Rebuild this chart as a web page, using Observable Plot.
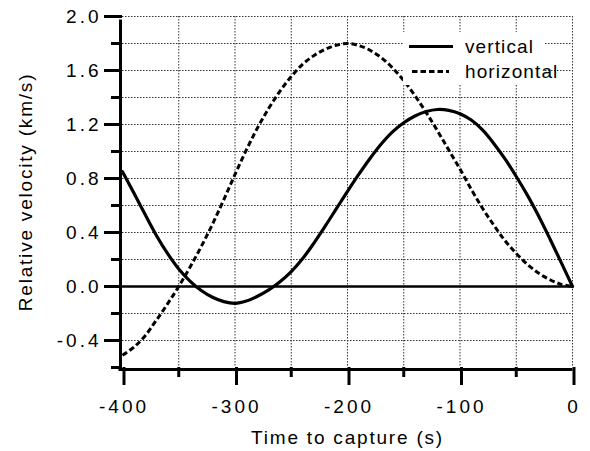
<!DOCTYPE html>
<html>
<head>
<meta charset="utf-8">
<script src="https://cdn.jsdelivr.net/npm/d3@7"></script>
<script src="https://cdn.jsdelivr.net/npm/@observablehq/plot@0.6"></script>
<style>
  body { margin: 0; background: #fff; }
  g[aria-label="y-axis tick label"] text, g[aria-label="x-axis tick label"] text { letter-spacing: 3px; }
  .title-text text { letter-spacing: 1.8px; }
</style>
</head>
<body>
<div id="chart"></div>
<script>
// Time to capture (s)
const time = [-400,-390,-380,-370,-360,-350,-340,-330,-320,-310,-300,-290,-280,-270,-260,-250,-240,-230,-220,-210,-200,
              -190,-180,-170,-160,-150,-140,-130,-120,-110,-100,-90,-80,-70,-60,-50,-40,-30,-20,-10,0];
// Relative velocity (km/s), vertical component (solid)
const vertical = [0.85,0.695,0.535,0.38,0.245,0.13,0.04,-0.03,-0.08,-0.112,-0.125,-0.108,-0.072,-0.025,0.035,0.11,0.205,0.32,0.445,0.575,0.705,
                  0.83,0.948,1.055,1.145,1.213,1.263,1.296,1.311,1.305,1.28,1.233,1.16,1.06,0.945,0.815,0.675,0.52,0.352,0.177,0];
// Relative velocity (km/s), horizontal component (dashed)
const horizontal = [-0.51,-0.45,-0.366,-0.251,-0.129,0.0,0.143,0.296,0.462,0.642,0.83,1.01,1.175,1.32,1.447,1.555,1.646,1.71,1.757,1.787,1.80,
                    1.785,1.75,1.695,1.62,1.525,1.413,1.288,1.153,1.011,0.87,0.72,0.58,0.455,0.34,0.245,0.163,0.098,0.05,0.016,0];

const seriesNames = ["vertical", "horizontal"];
const xMajorTicks = [-400,-300,-200,-100,0];
const xMinorTicks = [-350,-250,-150,-50];
const yMajorTicks = [-0.4,0.0,0.4,0.8,1.2,1.6,2.0];
const yMinorTicks = [-0.6,-0.2,0.2,0.6,1.0,1.4,1.8];
const xGridLines = [-350,-300,-250,-200,-150,-100,-50,0];
const yGridLines = [-0.4,-0.2,0.0,0.2,0.4,0.6,0.8,1.0,1.2,1.4,1.6,1.8,2.0];
const xTitle = "Time to capture (s)";
const yTitle = "Relative velocity (km/s)";

const vData = time.map((t, i) => ({t, v: vertical[i]}));
const hData = time.map((t, i) => ({t, v: horizontal[i]}));

const gridStyle = {stroke: "#333", strokeOpacity: 1, strokeWidth: 1, strokeDasharray: "1.5,1.5"};
const dashPattern = "5.5,3";

const svg = Plot.plot({
  width: 590,
  height: 451,
  marginLeft: 122,
  marginRight: 18,
  marginTop: 16,
  marginBottom: 84,
  style: {fontFamily: '"Liberation Sans", Arial, Helvetica, sans-serif', fontSize: "19px", background: "white", color: "black"},
  x: {domain: [-400, 0]},
  y: {domain: [-0.6, 2.0]},
  marks: [
    Plot.gridY(yGridLines, gridStyle),
    Plot.gridX(xGridLines, gridStyle),
    Plot.ruleY([0], {stroke: "black", strokeWidth: 2.5}),
    Plot.line(hData, {x: "t", y: "v", stroke: "black", strokeWidth: 3, strokeDasharray: dashPattern, strokeLinecap: "butt", curve: "catmull-rom"}),
    Plot.line(vData, {x: "t", y: "v", stroke: "black", strokeWidth: 3.2, curve: "catmull-rom"}),
    // axis lines
    Plot.ruleX([-400], {y1: -0.6, y2: 2.0, dx: -2, strokeWidth: 3, insetBottom: -3.5, insetTop: -0.5}),
    Plot.ruleY([-0.6], {x1: -400, x2: 0, dy: 2, strokeWidth: 3, insetLeft: -3.5, insetRight: -0.5}),
    // y axis ticks
    Plot.axisY(yMajorTicks, {tickSize: 18, tickPadding: 3, strokeWidth: 3, label: null, tickFormat: d => d.toFixed(1)}),
    Plot.axisY(yMinorTicks, {tickSize: 11, strokeWidth: 3, label: null, tickFormat: () => ""}),
    // x axis ticks
    Plot.axisX(xMajorTicks, {tickSize: 18, tickPadding: 14, strokeWidth: 3, label: null, tickFormat: d => String(d), dx: 1.5}),
    Plot.axisX(xMinorTicks, {tickSize: 10, strokeWidth: 3, label: null, tickFormat: () => ""}),
    // axis titles
    Plot.text([xTitle], {text: d => d, frameAnchor: "bottom", lineAnchor: "middle", textAnchor: "middle", dy: 70, className: "title-text"}),
    Plot.text([yTitle], {text: d => d, frameAnchor: "left", lineAnchor: "middle", textAnchor: "middle", rotate: -90, dx: -97, className: "title-text"})
  ]
});

// Legend (inside the plot, top right)
const g = d3.select(svg).append("g").attr("class", "legend").attr("text-anchor", "start");
g.append("rect").attr("x", 403).attr("y", 32).attr("width", 142).attr("height", 53).attr("fill", "white");
const legendStyles = [{dash: null, y: 46.5, x1: 409, x2: 453}, {dash: dashPattern, y: 71.5, x1: 412, x2: 449}];
seriesNames.forEach((name, i) => {
  const s = legendStyles[i];
  g.append("line").attr("x1", s.x1).attr("x2", s.x2).attr("y1", s.y).attr("y2", s.y)
    .attr("stroke", "black").attr("stroke-width", 3).attr("stroke-dasharray", s.dash);
  g.append("text").attr("x", 465).attr("y", s.y).attr("dy", "0.35em").attr("text-anchor", "start")
    .attr("font-size", 19).attr("letter-spacing", "1.1px").attr("fill", "black").text(name);
});

document.getElementById("chart").appendChild(svg);
</script>
</body>
</html>
